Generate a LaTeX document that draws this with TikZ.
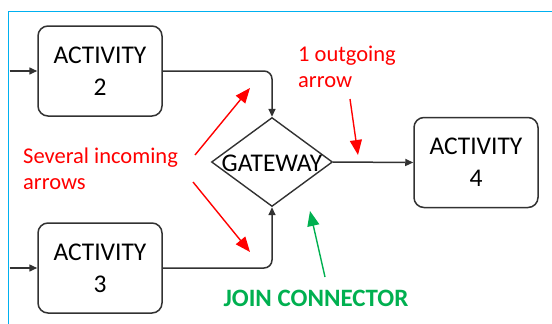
\documentclass[tikz,border=0pt]{standalone}
\usepackage{fontspec}
\setmainfont{Carlito}
\usetikzlibrary{arrows.meta,shapes.geometric}

\definecolor{framecyan}{RGB}{0,176,240}
\definecolor{notered}{RGB}{255,0,0}
\definecolor{notegreen}{RGB}{0,176,80}
\definecolor{edgegray}{RGB}{50,50,50}

\begin{document}
\begin{tikzpicture}[x=1pt,y=-1pt,
  act/.style={draw=edgegray, line width=1.5pt, rounded corners=10pt,
    minimum width=124pt, minimum height=90pt, inner sep=0pt, align=center,
    font=\fontsize{25.5}{32}\selectfont},
  gwshape/.style={diamond, draw=edgegray, line width=1.4pt,
    minimum width=121pt, minimum height=89pt, inner sep=0pt},
  conn/.style={draw=edgegray, line width=1.5pt, -{Triangle[length=8pt,width=7pt]}},
  pointer/.style={line width=1.4pt, -{Triangle[length=15pt,width=12pt]}},
  note/.style={inner sep=0pt, align=left, font=\fontsize{22.5}{26}\selectfont}]

  \useasboundingbox (0,0) rectangle (552,324);

  % frame
  \draw[framecyan, line width=1.8pt] (8.5,324) -- (8.5,11.5) -- (552,11.5);

  % activities and gateway
  \node[act] (a2) at (100,71) {ACTIVITY\\2};
  \node[act] (a3) at (100,268) {ACTIVITY\\3};
  \node[act] (a4) at (476,162.5) {ACTIVITY\\4};
  \node[gwshape] (gw) at (272,162) {};
  \node[inner sep=0pt, font=\fontsize{25.5}{32}\selectfont] (gwtext) at (272,163) {GATEWAY};

  % flow connectors
  \coordinate (in2) at (9.5,71);
  \coordinate (in3) at (9.5,268);
  \draw[conn] (in2) -- (a2.west);
  \draw[conn] (in3) -- (a3.west);
  \draw[conn, rounded corners=8pt] (a2.east) -| (gw.north);
  \draw[conn, rounded corners=8pt] (a3.east) -| (gw.south);
  \draw[conn] (gw.east) -- (a4.west);

  % annotations
  \node[note, text=notered, anchor=north west] (incoming) at (23,148) {Several incoming\\arrows};
  \node[note, text=notered, anchor=north west] (outgoing) at (298,46) {1 outgoing\\arrow};
  \node[inner sep=0pt, text=notegreen, font=\fontsize{25}{28}\selectfont\bfseries] (join) at (316,298) {JOIN CONNECTOR};

  \coordinate (upA) at (195,155);  \coordinate (upB) at (250,88);
  \coordinate (dnA) at (193,182);  \coordinate (dnB) at (250,252);
  \coordinate (outA) at (350,99);  \coordinate (outB) at (358,155);
  \coordinate (joinA) at (325,277); \coordinate (joinB) at (310,211);
  \draw[pointer, notered] (upA) -- (upB);
  \draw[pointer, notered] (dnA) -- (dnB);
  \draw[pointer, notered] (outA) -- (outB);
  \draw[pointer, notegreen] (joinA) -- (joinB);
\end{tikzpicture}
\end{document}
